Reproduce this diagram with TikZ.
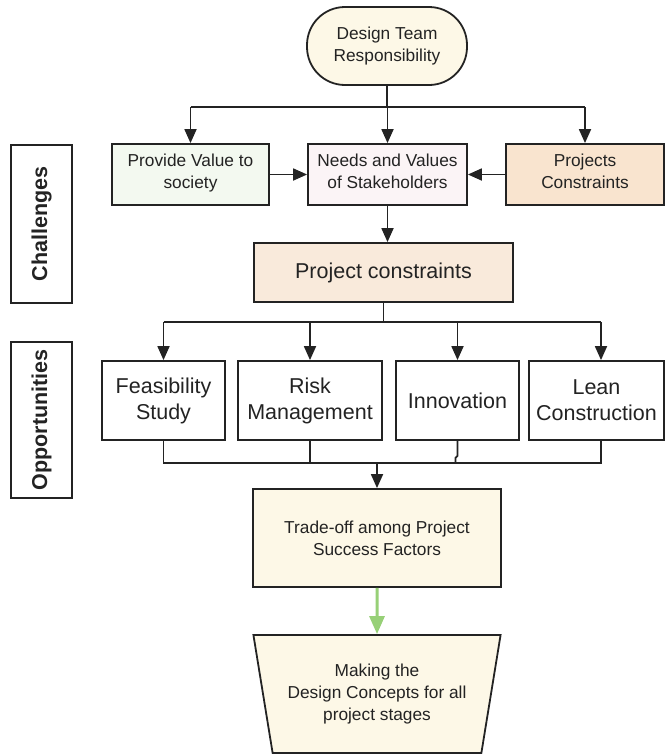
\documentclass[tikz,border=0pt]{standalone}
\usepackage{fontspec}
\setmainfont{Liberation Sans}
\usetikzlibrary{arrows.meta,shapes.geometric}

\definecolor{ink}{HTML}{232323}
\definecolor{cream}{HTML}{FDF8E7}
\definecolor{mint}{HTML}{F3F9F0}
\definecolor{blush}{HTML}{FBF4F6}
\definecolor{peach}{HTML}{F9E4CF}
\definecolor{sand}{HTML}{F9EADB}
\definecolor{leaf}{HTML}{97D077}

\begin{document}
\begin{tikzpicture}[x=1pt,y=-1pt,
  every node/.style={text=ink},
  box/.style={draw=ink, line width=1.8pt, align=center, inner sep=1pt},
  small/.style={font=\fontsize{17.3}{22}\selectfont},
  big/.style={font=\fontsize{21.5}{26}\selectfont},
  side/.style={box, rotate=90, font=\bfseries\fontsize{21.5}{26}\selectfont,
               minimum height=61pt},
  wire/.style={draw=ink, line width=1.8pt},
  arr/.style={wire, -{Triangle[length=14pt,width=12pt]}},
  greenarr/.style={draw=leaf, line width=3pt, -{Triangle[length=18pt,width=15pt]}}
]
\useasboundingbox (0,0) rectangle (665,755);

% row labels
\node[side, minimum width=158pt] (chall) at (41.5,224) {Challenges};
\node[side, minimum width=156pt] (opp) at (41.5,420) {Opportunities};

% top of the flow
\node[box, small, fill=cream, rounded corners=38pt,
      minimum width=160pt, minimum height=78pt] (top) at (387,46)
      {Design Team\\Responsibility};

% challenge boxes
\node[box, small, fill=mint, minimum width=157pt, minimum height=61pt]
      (provide) at (190.5,174.5) {Provide Value to\\society\rule[-6pt]{0pt}{0pt}};
\node[box, small, fill=blush, minimum width=159pt, minimum height=61pt]
      (needs) at (387.5,174.5) {Needs and Values\\of Stakeholders\rule[-6pt]{0pt}{0pt}};
\node[box, small, fill=peach, minimum width=158pt, minimum height=61pt]
      (projc) at (585,174.5) {Projects\\Constraints\rule[-6pt]{0pt}{0pt}};

\node[box, fill=sand, font=\fontsize{21.5}{26}\selectfont,
      minimum width=259pt, minimum height=59pt] (pc) at (383.5,272.5)
      {Project constraints};

% opportunity boxes
\node[box, big, fill=white, minimum width=123pt, minimum height=79pt]
      (feas) at (163.5,400.5) {Feasibility\\Study};
\node[box, big, fill=white, minimum width=144pt, minimum height=79pt]
      (risk) at (310,400.5) {Risk\\Management};
\node[box, big, fill=white, minimum width=123pt, minimum height=79pt]
      (innov) at (457.5,400.5) {Innovation};
\node[box, big, fill=white, minimum width=135pt, minimum height=79pt]
      (lean) at (596.5,400.5) {Lean\\Construction};

% outcome
\node[box, small, fill=cream, minimum width=248pt, minimum height=98pt]
      (trade) at (377,538) {Trade-off among Project\\Success Factors};
\node[box, small, fill=cream, trapezium, trapezium angle=75,
      shape border rotate=180, trapezium stretches=true,
      minimum width=248pt, minimum height=118pt] (making) at (377,694)
      {Making the\\Design Concepts for all\\project stages};

% bus lines
\coordinate (busA) at (0,107);
\coordinate (busB) at (0,322);
\coordinate (busC) at (0,463);
\coordinate (leanin) at ([xshift=4.5pt]lean.north);
\coordinate (leanout) at ([xshift=4.5pt]lean.south);

% fan-out from the top
\draw[wire] (top.south) -- (top.south |- busA);
\draw[wire] (provide.north |- busA) -- (projc.north |- busA);
\draw[arr] (provide.north |- busA) -- (provide.north);
\draw[arr] (needs.north |- busA) -- (needs.north);
\draw[arr] (projc.north |- busA) -- (projc.north);

% into stakeholders
\draw[arr] (provide.east) -- (needs.west);
\draw[arr] (projc.west) -- (needs.east);
\draw[arr] (needs.south) -- (needs.south |- pc.north);

% fan-out to opportunities
\draw[wire] (pc.south) -- (pc.south |- busB);
\draw[wire] (feas.north |- busB) -- (leanin |- busB);
\draw[arr] (feas.north |- busB) -- (feas.north);
\draw[arr] (risk.north |- busB) -- (risk.north);
\draw[arr] (innov.north |- busB) -- (innov.north);
\draw[arr] (leanin |- busB) -- (leanin);

% gather to trade-off
\draw[wire] (feas.south) -- (feas.south |- busC) -- (leanout |- busC) -- (leanout);
\draw[wire] (risk.south) -- (risk.south |- busC);
\draw[wire] (innov.south) -- ++(0,15) -- ++(-2,2) |- (innov.south |- busC);
\draw[arr] (trade.north |- busC) -- (trade.north);

% final step
\draw[greenarr] (trade.south) -- (making.north);
\end{tikzpicture}
\end{document}
